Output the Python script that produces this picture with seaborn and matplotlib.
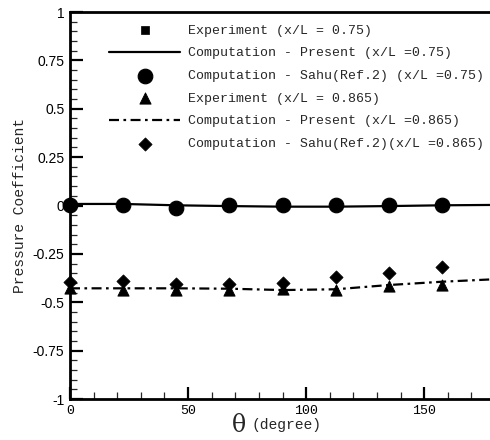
import matplotlib
matplotlib.use("Agg")
import matplotlib.pyplot as plt
from matplotlib.ticker import MultipleLocator
import seaborn as sns

sns.set_style("ticks")
plt.rcParams["font.family"] = ["Liberation Mono", "DejaVu Sans"]
plt.rcParams["axes.unicode_minus"] = False

# Circumferential stations (degrees)
theta_pts = [0, 22.5, 45, 67.5, 90, 112.5, 135, 157.5]
theta_line = [0, 22.5, 45, 67.5, 90, 112.5, 135, 157.5, 180]

# x/L = 0.75
exp_075 = [0.003, 0.003, -0.012, 0.003, 0.0, 0.0, 0.0, 0.003]
present_075 = [0.008, 0.008, 0.001, -0.003, -0.006, -0.006, -0.003, 0.001, 0.003]
sahu_075 = [0.003, 0.003, -0.015, 0.003, 0.003, 0.003, 0.003, 0.003]

# x/L = 0.865
exp_0865 = [-0.428, -0.435, -0.435, -0.435, -0.433, -0.437, -0.416, -0.411]
present_0865 = [-0.428, -0.428, -0.428, -0.43, -0.437, -0.433, -0.411, -0.394, -0.381]
sahu_0865 = [-0.394, -0.39, -0.407, -0.407, -0.402, -0.368, -0.347, -0.319]

labels = [
    "Experiment (x/L = 0.75)",
    "Computation - Present (x/L =0.75)",
    "Computation - Sahu(Ref.2) (x/L =0.75)",
    "Experiment (x/L = 0.865)",
    "Computation - Present (x/L =0.865)",
    "Computation - Sahu(Ref.2)(x/L =0.865)",
]
ytick_vals = [1, 0.75, 0.5, 0.25, 0, -0.25, -0.5, -0.75, -1]
ytick_text = ["1", "0.75", "0.5", "0.25", "0", "-0.25", "-0.5", "-0.75", "-1"]

fig = plt.figure(figsize=(4.9, 4.4), dpi=100)
ax = fig.add_axes([70 / 490, 1 - 399 / 440, 425 / 490, 387 / 440])

sns.scatterplot(x=theta_pts, y=exp_075, marker="s", s=40, color="black",
                edgecolor="black", ax=ax, label=labels[0], zorder=3, clip_on=False)
sns.lineplot(x=theta_line, y=present_075, color="black", linewidth=1.6,
             ax=ax, label=labels[1], zorder=2)
sns.scatterplot(x=theta_pts, y=sahu_075, marker="o", s=110, color="black",
                edgecolor="black", ax=ax, label=labels[2], zorder=4, clip_on=False)
sns.scatterplot(x=theta_pts, y=exp_0865, marker="^", s=65, color="black",
                edgecolor="black", ax=ax, label=labels[3], zorder=4, clip_on=False)
sns.lineplot(x=theta_line, y=present_0865, color="black", linewidth=1.6,
             linestyle=(0, (4.5, 2, 1.2, 2)), ax=ax, label=labels[4], zorder=2)
sns.scatterplot(x=theta_pts, y=sahu_0865, marker="D", s=45, color="black",
                edgecolor="black", ax=ax, label=labels[5], zorder=4, clip_on=False)

ax.set_xlim(0, 180)
ax.set_ylim(-1, 1)
ax.xaxis.set_major_locator(MultipleLocator(50))
ax.xaxis.set_minor_locator(MultipleLocator(10))
ax.yaxis.set_minor_locator(MultipleLocator(0.05))
ax.set_yticks(ytick_vals)
ax.set_yticklabels(ytick_text, family=["Liberation Sans"], fontsize=10)
ax.tick_params(which="major", direction="in", length=9, width=1.6,
               colors="black")
ax.tick_params(which="minor", direction="in", length=5, width=0.9)
ax.tick_params(axis="y", which="major", pad=4)
ax.tick_params(axis="x", which="major", labelsize=9.5, pad=4)
ax.tick_params(axis="x", which="both", top=False)
ax.tick_params(axis="y", which="both", right=False)
for side in ["left", "bottom", "top", "right"]:
    ax.spines[side].set_linewidth(2)
    ax.spines[side].set_color("black")

ax.set_ylabel("Pressure Coefficient", fontsize=10.5, labelpad=4)
ax.set_xlabel("")
fig.text(232 / 490, 3 / 440, "θ", fontsize=17, family=["DejaVu Serif"],
         ha="left", va="bottom")
fig.text(252 / 490, 8 / 440, "(degree)", fontsize=10.5, ha="left", va="bottom")

ax.legend(loc="upper left", bbox_to_anchor=(109 / 490, 1 - 24.5 / 440),
          bbox_transform=fig.transFigure, frameon=False, fontsize=9.5,
          handlelength=5.4, handletextpad=0.6, labelspacing=0.79,
          borderpad=0, borderaxespad=0)

fig.savefig("out.png", dpi=100)
